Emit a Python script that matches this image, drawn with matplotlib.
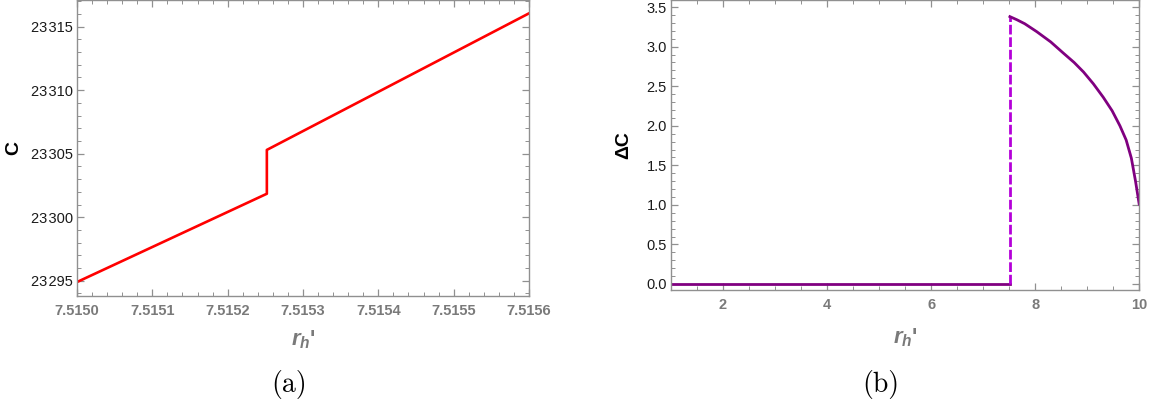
import numpy as np
from matplotlib import pyplot as plt
from matplotlib.ticker import MultipleLocator, FuncFormatter

plt.rcParams['font.family'] = ['Liberation Sans', 'DejaVu Sans']
plt.rcParams['mathtext.fontset'] = 'custom'
plt.rcParams['mathtext.it'] = 'Liberation Sans:italic:bold'
plt.rcParams['mathtext.rm'] = 'Liberation Sans:bold'

# panel (a): C vs r_h' around the jump
rh_a_low = [7.5150, 7.515252]
c_low = [23294.9, 23301.85]
rh_a_high = [7.515252, 7.5156]
c_high = [23305.3, 23316.05]

# panel (b): Delta C vs r_h'
rh_b_zero = [1.0, 7.515]
dc_zero = [0.0, 0.0]
rh_b_jump = [7.515, 7.515]
dc_jump = [0.0, 3.38]
rh_b_curve = [7.515, 7.65, 7.8, 8.03, 8.3, 8.54, 8.75, 8.93, 9.12, 9.31,
              9.48, 9.63, 9.75, 9.85, 9.93, 10.0]
dc_curve = [3.38, 3.34, 3.29, 3.19, 3.06, 2.92, 2.80, 2.68, 2.53, 2.36,
            2.19, 2.00, 1.82, 1.59, 1.30, 1.01]

GRAY = '#7a7a7a'
SPINE = '#909090'


def style_axes(ax):
    for s in ax.spines.values():
        s.set_color(SPINE)
        s.set_linewidth(1.0)
    ax.tick_params(which='both', direction='in', top=True, right=True,
                   color=SPINE)
    ax.tick_params(which='major', length=5, width=0.9)
    ax.tick_params(which='minor', length=3, width=0.7)
    ax.tick_params(axis='x', which='major', labelsize=10.5, labelcolor=GRAY, pad=6)
    ax.tick_params(axis='y', which='major', labelsize=10.5, labelcolor='#1a1a1a', pad=3)
    for lab in ax.get_xticklabels():
        lab.set_fontweight('bold')


fig = plt.figure(figsize=(11.53, 4.07), dpi=100)

ax1 = fig.add_axes([0.0668, 0.2727, 0.392, 0.7273])
ax1.plot(rh_a_low + rh_a_high, c_low + c_high, color='#ff0000', linewidth=1.9)
ax1.set_xlim(7.5150, 7.5156)
ax1.set_ylim(23293.8, 23317.1)
ax1.xaxis.set_major_locator(MultipleLocator(0.0001))
ax1.xaxis.set_minor_locator(MultipleLocator(0.00002))
ax1.yaxis.set_major_locator(MultipleLocator(5))
ax1.yaxis.set_minor_locator(MultipleLocator(1))
ax1.xaxis.set_major_formatter(FuncFormatter(lambda v, p: '%.4f' % v))
ax1.yaxis.set_major_formatter(FuncFormatter(
    lambda v, p: '%d\u200a%03d' % (int(round(v)) // 1000, int(round(v)) % 1000)))
style_axes(ax1)
ax1.set_ylabel('C', fontsize=14, fontweight='bold')
ax1.yaxis.set_label_coords(-0.122, 0.5)
ax1.set_xlabel("$r_h$'", fontsize=16, fontweight='bold', color=GRAY)
ax1.xaxis.set_label_coords(0.5, -0.111)

ax2 = fig.add_axes([0.582, 0.2875, 0.406, 0.7125])
ax2.plot(rh_b_zero, dc_zero, color='#800080', linewidth=2.0)
ax2.plot(rh_b_jump, dc_jump, color='#b400d8', linewidth=2.0,
         linestyle=(0, (3.5, 1)))
ax2.plot(rh_b_curve, dc_curve, color='#800080', linewidth=2.0)
ax2.set_xlim(1, 10)
ax2.set_ylim(-0.076, 3.59)
ax2.xaxis.set_major_locator(MultipleLocator(2))
ax2.xaxis.set_minor_locator(MultipleLocator(0.5))
ax2.yaxis.set_major_locator(MultipleLocator(0.5))
ax2.yaxis.set_minor_locator(MultipleLocator(0.1))
ax2.yaxis.set_major_formatter(FuncFormatter(lambda v, p: '%.1f' % v))
style_axes(ax2)
ax2.set_ylabel('\u0394C', fontsize=14, fontweight='bold')
ax2.yaxis.set_label_coords(-0.083, 0.5)
ax2.set_xlabel("$r_h$'", fontsize=16, fontweight='bold', color=GRAY)
ax2.xaxis.set_label_coords(0.5, -0.125)

fig.text(0.2507, 0.055, '(a)', family='cmr10', fontsize=20, ha='center', va='center')
fig.text(0.764, 0.055, '(b)', family='cmr10', fontsize=20, ha='center', va='center')

fig.savefig('out.png', dpi=100)
